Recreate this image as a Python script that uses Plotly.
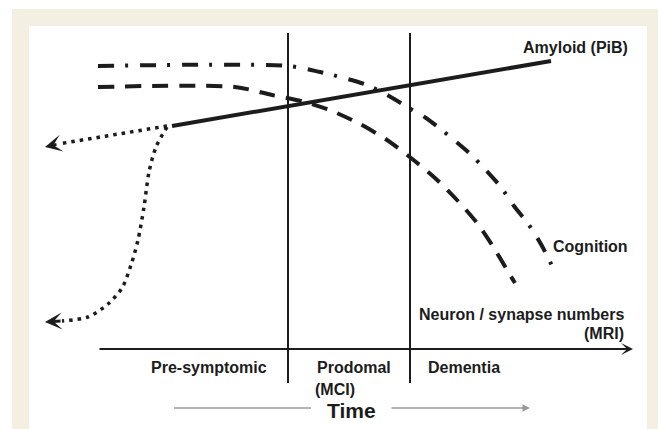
import plotly.graph_objects as go

# ---------------- data (schematic coordinates: x = time, y = level, y grows downward) ----------------
amyloid_x = [172, 551]
amyloid_y = [126, 61]

cognition_x = [98, 288, 320, 344, 367, 389, 409, 426, 467, 484, 500, 514, 529, 542, 555]
cognition_y = [66, 66, 72, 78, 85, 96, 108, 118, 151, 168, 186, 206, 225, 246, 272]

neuron_x = [98, 235, 272, 305, 332, 360, 387, 411, 435, 457, 477, 494, 510, 515]
neuron_y = [87, 87, 95, 102, 111, 124, 140, 158, 178, 200, 223, 248, 275, 283]

early_upper_x = [167, 58, 45]
early_upper_y = [126, 144, 147]

early_lower_x = [167, 156, 149, 144, 138, 131, 122, 108, 88, 62, 45]
early_lower_y = [127, 147, 172, 207, 240, 265, 288, 304, 317, 321, 322]

phase_bounds = [288, 410]
phase_top, phase_bottom = 33, 383
axis_start, axis_end, axis_level = 98, 633, 349

phase_labels = ["Pre-symptomic", "Prodomal", "(MCI)", "Dementia"]
phase_label_x = [149, 315, 313, 426]
phase_label_y = [367, 367, 389, 367]

curve_labels = ["Amyloid (PiB)", "Cognition", "Neuron / synapse numbers", "(MRI)"]
curve_label_x = [521, 551, 626, 626]
curve_label_y = [47, 246, 314, 333]
curve_label_anchor = ["left", "left", "right", "right"]

time_label = "Time"
time_x, time_y = 351, 410
time_left_arrow = [174, 311]
time_right_arrow = [390, 530]

W, H = 658, 429
INK = "#1c1c1c"
BEIGE = "#F3EFE2"
FONT = "Liberation Sans, Arial, Helvetica, sans-serif"

fig = go.Figure()

fig.add_trace(go.Scatter(x=amyloid_x, y=amyloid_y, mode="lines",
                         line=dict(color=INK, width=4), hoverinfo="skip"))
fig.add_trace(go.Scatter(x=cognition_x, y=cognition_y, mode="lines",
                         line=dict(color=INK, width=4, dash="16px,11px,3px,12px",
                                   shape="spline", smoothing=0.8), hoverinfo="skip"))
fig.add_trace(go.Scatter(x=neuron_x, y=neuron_y, mode="lines",
                         line=dict(color=INK, width=4, dash="16px,11px",
                                   shape="spline", smoothing=0.8), hoverinfo="skip"))
fig.add_trace(go.Scatter(x=early_upper_x[:-1], y=early_upper_y[:-1], mode="lines",
                         line=dict(color=INK, width=3.5, dash="3.5px,5px"), hoverinfo="skip"))
fig.add_trace(go.Scatter(x=early_lower_x[:-1], y=early_lower_y[:-1], mode="lines",
                         line=dict(color=INK, width=3.5, dash="3.5px,5px",
                                   shape="spline", smoothing=0.8), hoverinfo="skip"))

shapes = [
    # beige frame
    dict(type="rect", xref="x", yref="y", x0=12, x1=W, y0=9, y1=H,
         fillcolor=BEIGE, line=dict(width=0), layer="below"),
    dict(type="rect", xref="x", yref="y", x0=29, x1=647, y0=26, y1=H,
         fillcolor="white", line=dict(width=0), layer="below"),
]
for xb in phase_bounds:
    shapes.append(dict(type="line", xref="x", yref="y", x0=xb, x1=xb,
                       y0=phase_top, y1=phase_bottom, line=dict(color=INK, width=2)))
shapes.append(dict(type="line", xref="x", yref="y", x0=time_left_arrow[0], x1=time_left_arrow[1],
                   y0=time_y - 2, y1=time_y - 2, line=dict(color="#9a9a9a", width=1.5)))

annotations = []
# time axis arrow
annotations.append(dict(x=axis_end, y=axis_level, ax=axis_start, ay=axis_level,
                        xref="x", yref="y", axref="x", ayref="y", text="",
                        showarrow=True, arrowhead=3, arrowsize=1.0, arrowwidth=2, arrowcolor=INK))
# dotted arrowheads
for xs, ys in [(early_upper_x, early_upper_y), (early_lower_x, early_lower_y)]:
    annotations.append(dict(x=xs[-1], y=ys[-1], ax=xs[-2], ay=ys[-2],
                            xref="x", yref="y", axref="x", ayref="y", text="",
                            showarrow=True, arrowhead=3, arrowsize=0.95, arrowwidth=3,
                            arrowcolor=INK))
# gray time arrow (right part)
annotations.append(dict(x=time_right_arrow[1], y=time_y - 2, ax=time_right_arrow[0], ay=time_y - 2,
                        xref="x", yref="y", axref="x", ayref="y", text="",
                        showarrow=True, arrowhead=2, arrowsize=1, arrowwidth=1.5,
                        arrowcolor="#9a9a9a"))

for t, x, y in zip(phase_labels, phase_label_x, phase_label_y):
    annotations.append(dict(x=x, y=y, xref="x", yref="y", text=t, showarrow=False,
                            xanchor="left", yanchor="middle",
                            font=dict(family=FONT, size=16, color=INK, weight="bold")))
for t, x, y, a in zip(curve_labels, curve_label_x, curve_label_y, curve_label_anchor):
    annotations.append(dict(x=x, y=y, xref="x", yref="y", text=t, showarrow=False,
                            xanchor=a, yanchor="middle",
                            font=dict(family=FONT, size=16, color=INK, weight="bold")))
annotations.append(dict(x=time_x, y=time_y, xref="x", yref="y", text=time_label, showarrow=False,
                        xanchor="center", yanchor="middle",
                        font=dict(family=FONT, size=21, color=INK, weight="bold")))

fig.update_layout(
    width=W, height=H,
    margin=dict(l=0, r=0, t=0, b=0),
    paper_bgcolor="white", plot_bgcolor="rgba(0,0,0,0)",
    showlegend=False,
    xaxis=dict(range=[0, W], visible=False, fixedrange=True),
    yaxis=dict(range=[H, 0], visible=False, fixedrange=True),
    shapes=shapes, annotations=annotations,
)

fig.write_html("out.html", config={"displayModeBar": False},
               post_script="document.body.style.margin='0';document.body.style.overflow='hidden';")
